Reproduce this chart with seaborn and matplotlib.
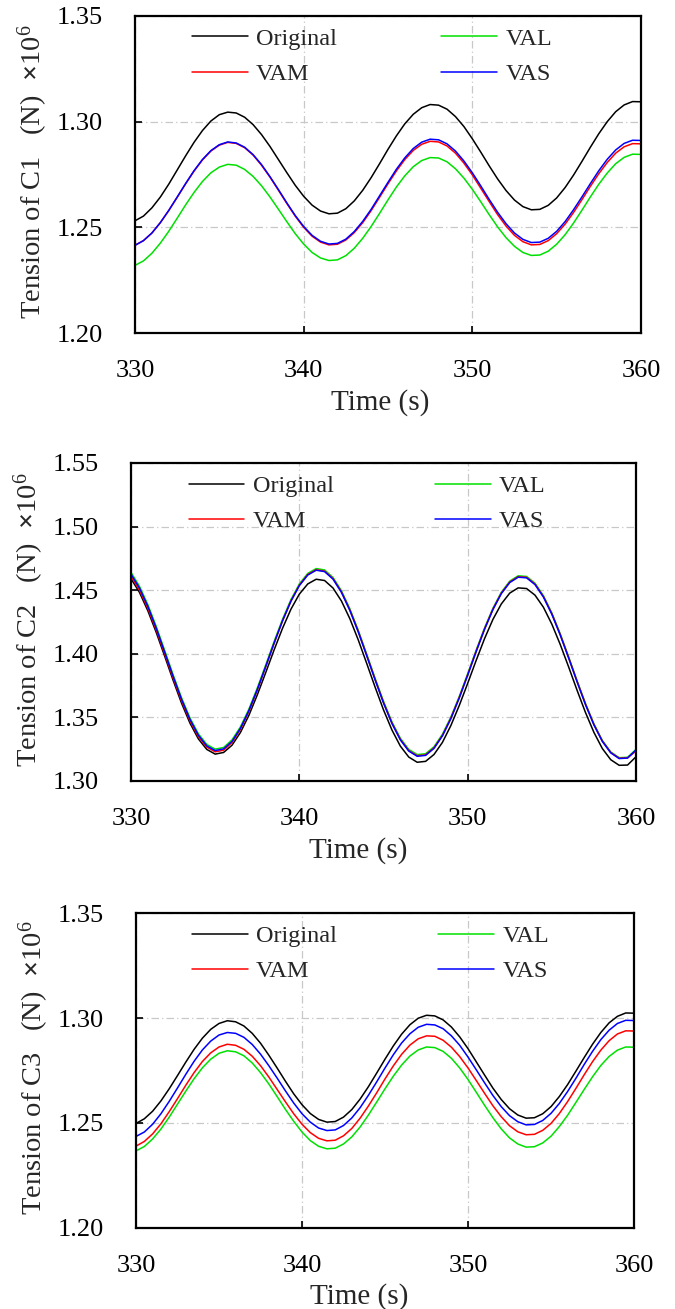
import numpy as np
import pandas as pd
import matplotlib
matplotlib.use("Agg")
import matplotlib.pyplot as plt
import seaborn as sns

# ---------------- data ----------------
time = np.arange(330.0, 360.01, 0.5)
series_names = ["Original", "VAL", "VAM", "VAS"]
colors = {"Original": "#000000", "VAL": "#00e000", "VAM": "#ff0000", "VAS": "#0000ff"}

c1_original = [1.2531,1.2553,1.2592,1.2643,1.2704,1.2771,1.2838,1.2902,1.2958,1.3003,1.3033,1.3045,
    1.3041,1.3021,1.2986,1.2939,1.2883,1.2821,1.2759,1.2699,1.2647,1.2605,1.2577,1.2564,
    1.2567,1.2588,1.2625,1.2675,1.2735,1.2801,1.2869,1.2933,1.2990,1.3035,1.3066,1.3081,
    1.3078,1.3059,1.3024,1.2977,1.2919,1.2856,1.2791,1.2729,1.2674,1.2629,1.2598,1.2583,
    1.2585,1.2604,1.2639,1.2688,1.2747,1.2812,1.2879,1.2943,1.3000,1.3047,1.3079,1.3095,1.3094]
c1_val = [1.2320,1.2341,1.2377,1.2425,1.2481,1.2543,1.2606,1.2665,1.2717,1.2758,1.2785,1.2798,
    1.2794,1.2774,1.2741,1.2697,1.2644,1.2586,1.2527,1.2470,1.2421,1.2381,1.2355,1.2343,
    1.2346,1.2366,1.2401,1.2448,1.2504,1.2566,1.2630,1.2691,1.2744,1.2787,1.2816,1.2830,
    1.2828,1.2810,1.2777,1.2733,1.2680,1.2621,1.2560,1.2502,1.2451,1.2410,1.2381,1.2367,
    1.2369,1.2387,1.2420,1.2465,1.2520,1.2581,1.2644,1.2704,1.2757,1.2801,1.2831,1.2846,1.2845]
c1_vam = [1.2415,1.2437,1.2473,1.2522,1.2579,1.2642,1.2706,1.2766,1.2819,1.2861,1.2889,1.2902,
    1.2897,1.2877,1.2842,1.2794,1.2738,1.2676,1.2613,1.2553,1.2500,1.2458,1.2430,1.2417,
    1.2420,1.2440,1.2475,1.2522,1.2579,1.2642,1.2706,1.2767,1.2821,1.2864,1.2893,1.2907,
    1.2904,1.2885,1.2851,1.2804,1.2748,1.2685,1.2622,1.2560,1.2506,1.2462,1.2432,1.2417,
    1.2419,1.2437,1.2470,1.2515,1.2570,1.2631,1.2694,1.2754,1.2807,1.2851,1.2881,1.2896,1.2895]
c1_vas = [1.2415,1.2437,1.2473,1.2522,1.2580,1.2643,1.2707,1.2768,1.2821,1.2863,1.2891,1.2904,
    1.2899,1.2879,1.2844,1.2797,1.2740,1.2679,1.2616,1.2556,1.2504,1.2462,1.2434,1.2421,
    1.2424,1.2444,1.2480,1.2528,1.2585,1.2649,1.2713,1.2775,1.2829,1.2873,1.2903,1.2917,
    1.2914,1.2895,1.2861,1.2814,1.2758,1.2696,1.2632,1.2571,1.2517,1.2473,1.2443,1.2428,
    1.2430,1.2448,1.2481,1.2527,1.2583,1.2644,1.2707,1.2768,1.2822,1.2866,1.2897,1.2912,1.2911]

c2_original = [1.4590,1.4483,1.4338,1.4167,1.3981,1.3792,1.3612,1.3455,1.3331,1.3248,1.3211,
    1.3224,1.3281,1.3381,1.3515,1.3676,1.3851,1.4030,1.4200,1.4350,1.4469,1.4549,1.4586,
    1.4576,1.4517,1.4415,1.4276,1.4109,1.3925,1.3738,1.3559,1.3401,1.3274,1.3188,1.3147,
    1.3154,1.3208,1.3303,1.3435,1.3593,1.3767,1.3946,1.4118,1.4270,1.4392,1.4477,1.4518,
    1.4513,1.4461,1.4366,1.4233,1.4073,1.3896,1.3713,1.3538,1.3382,1.3255,1.3167,1.3123,
    1.3125,1.3190]
c2_val = [1.4640,1.4531,1.4386,1.4214,1.4026,1.3835,1.3654,1.3496,1.3371,1.3287,1.3250,
    1.3263,1.3323,1.3425,1.3564,1.3730,1.3911,1.4096,1.4271,1.4426,1.4549,1.4632,1.4670,
    1.4659,1.4600,1.4496,1.4354,1.4185,1.3998,1.3808,1.3626,1.3465,1.3336,1.3248,1.3207,
    1.3214,1.3269,1.3367,1.3502,1.3664,1.3843,1.4027,1.4202,1.4358,1.4484,1.4571,1.4613,
    1.4608,1.4555,1.4457,1.4321,1.4157,1.3975,1.3788,1.3609,1.3449,1.3319,1.3228,1.3183,
    1.3186,1.3248]
c2_vam = [1.4610,1.4502,1.4358,1.4187,1.4000,1.3810,1.3631,1.3474,1.3349,1.3266,1.3229,
    1.3242,1.3302,1.3406,1.3546,1.3713,1.3896,1.4082,1.4259,1.4415,1.4539,1.4623,1.4661,
    1.4650,1.4591,1.4487,1.4345,1.4176,1.3989,1.3799,1.3617,1.3456,1.3327,1.3239,1.3198,
    1.3205,1.3260,1.3358,1.3493,1.3656,1.3835,1.4019,1.4195,1.4351,1.4477,1.4564,1.4606,
    1.4601,1.4548,1.4450,1.4315,1.4151,1.3970,1.3783,1.3604,1.3444,1.3314,1.3224,1.3179,
    1.3182,1.3235]
c2_vas = [1.4626,1.4518,1.4373,1.4201,1.4013,1.3823,1.3643,1.3485,1.3360,1.3276,1.3239,
    1.3252,1.3311,1.3414,1.3553,1.3718,1.3899,1.4084,1.4259,1.4413,1.4536,1.4619,1.4657,
    1.4646,1.4587,1.4483,1.4341,1.4172,1.3985,1.3795,1.3613,1.3452,1.3323,1.3235,1.3194,
    1.3201,1.3256,1.3354,1.3489,1.3652,1.3831,1.4015,1.4191,1.4347,1.4473,1.4560,1.4602,
    1.4597,1.4544,1.4446,1.4311,1.4147,1.3966,1.3780,1.3600,1.3441,1.3311,1.3221,1.3176,
    1.3180,1.3244]

c3_original = [1.2498,1.2520,1.2556,1.2605,1.2663,1.2726,1.2790,1.2851,1.2904,1.2946,1.2974,1.2987,
    1.2982,1.2962,1.2927,1.2880,1.2823,1.2762,1.2699,1.2639,1.2587,1.2545,1.2517,1.2504,
    1.2507,1.2528,1.2564,1.2614,1.2673,1.2738,1.2804,1.2867,1.2923,1.2968,1.2999,1.3013,
    1.3010,1.2991,1.2957,1.2910,1.2854,1.2791,1.2728,1.2666,1.2612,1.2568,1.2538,1.2523,
    1.2525,1.2544,1.2578,1.2626,1.2683,1.2747,1.2812,1.2875,1.2931,1.2977,1.3008,1.3024,1.3023]
c3_val = [1.2367,1.2388,1.2424,1.2471,1.2528,1.2590,1.2652,1.2711,1.2763,1.2804,1.2832,1.2844,
    1.2839,1.2820,1.2786,1.2740,1.2686,1.2626,1.2565,1.2508,1.2457,1.2416,1.2389,1.2377,
    1.2380,1.2400,1.2434,1.2481,1.2538,1.2600,1.2663,1.2723,1.2776,1.2819,1.2848,1.2862,
    1.2859,1.2841,1.2808,1.2762,1.2707,1.2646,1.2584,1.2525,1.2472,1.2429,1.2400,1.2385,
    1.2387,1.2405,1.2437,1.2483,1.2537,1.2598,1.2660,1.2720,1.2774,1.2817,1.2847,1.2862,1.2861]
c3_vam = [1.2390,1.2412,1.2448,1.2496,1.2554,1.2616,1.2680,1.2740,1.2793,1.2834,1.2862,1.2875,
    1.2870,1.2851,1.2818,1.2773,1.2719,1.2660,1.2601,1.2544,1.2494,1.2454,1.2427,1.2415,
    1.2418,1.2439,1.2474,1.2523,1.2581,1.2644,1.2710,1.2772,1.2827,1.2871,1.2901,1.2915,
    1.2913,1.2894,1.2861,1.2816,1.2762,1.2702,1.2641,1.2582,1.2530,1.2487,1.2458,1.2444,
    1.2446,1.2465,1.2498,1.2545,1.2602,1.2665,1.2730,1.2792,1.2847,1.2892,1.2924,1.2939,1.2938]
c3_vas = [1.2436,1.2457,1.2494,1.2544,1.2603,1.2667,1.2732,1.2794,1.2848,1.2890,1.2919,1.2931,
    1.2927,1.2908,1.2874,1.2828,1.2773,1.2714,1.2653,1.2595,1.2544,1.2504,1.2476,1.2464,
    1.2467,1.2488,1.2524,1.2573,1.2632,1.2696,1.2762,1.2825,1.2881,1.2925,1.2956,1.2970,
    1.2967,1.2949,1.2915,1.2870,1.2814,1.2753,1.2691,1.2631,1.2578,1.2535,1.2506,1.2491,
    1.2493,1.2512,1.2546,1.2593,1.2650,1.2713,1.2779,1.2841,1.2897,1.2942,1.2974,1.2989,1.2988]

x_ticks = [330, 340, 350, 360]
y_ticks_c1 = [1.20, 1.25, 1.30, 1.35]
y_ticks_c2 = [1.30, 1.35, 1.40, 1.45, 1.50, 1.55]
y_ticks_c3 = [1.20, 1.25, 1.30, 1.35]

panels = [
    dict(name="C1", data={"Original": c1_original, "VAL": c1_val, "VAM": c1_vam, "VAS": c1_vas},
         yticks=y_ticks_c1, pos=[0.2000, 0.7456, 0.7496, 0.2422], ylab_x=-0.168, xlab_x=0.484,
         xlab_y=-0.178, leg=(0.112, 0.963), colsp=4.3),
    dict(name="C2", data={"Original": c2_original, "VAL": c2_val, "VAM": c2_vam, "VAS": c2_vas},
         yticks=y_ticks_c2, pos=[0.1941, 0.4034, 0.7481, 0.2429], ylab_x=-0.168, xlab_x=0.449,
         xlab_y=-0.175, leg=(0.114, 0.962), colsp=4.15),
    dict(name="C3", data={"Original": c3_original, "VAL": c3_val, "VAM": c3_vam, "VAS": c3_vas},
         yticks=y_ticks_c3, pos=[0.2015, 0.0619, 0.7378, 0.2406], ylab_x=-0.171, xlab_x=0.448,
         xlab_y=-0.175, leg=(0.112, 0.962), colsp=4.15),
]

# ---------------- style ----------------
sns.set_theme(style="white")
plt.rcParams["font.family"] = ["Liberation Serif", "DejaVu Serif"]
plt.rcParams["mathtext.fontset"] = "custom"
plt.rcParams["mathtext.rm"] = "Liberation Serif"
plt.rcParams["mathtext.it"] = "Liberation Serif:italic"
plt.rcParams["mathtext.bf"] = "Liberation Serif:bold"

fig = plt.figure(figsize=(6.75, 13.09), dpi=100)
fig.patch.set_facecolor("white")

for p in panels:
    ax = fig.add_axes(p["pos"])
    ax.set_facecolor("white")
    rows = []
    for nm in series_names:
        for t, v in zip(time, p["data"][nm]):
            rows.append((t, v, nm))
    df = pd.DataFrame(rows, columns=["time", "tension", "series"])
    sns.lineplot(data=df, x="time", y="tension", hue="series", hue_order=series_names,
                 palette=colors, linewidth=1.1, legend=False, ax=ax, zorder=3)

    ax.set_xlim(330, 360)
    ax.set_ylim(p["yticks"][0], p["yticks"][-1])
    ax.set_xticks(x_ticks)
    ax.set_yticks(p["yticks"])
    ax.set_yticklabels([f"{v:.2f}" for v in p["yticks"]])
    ax.tick_params(axis="both", direction="in", length=5, width=1.2, labelsize=19,
                   colors="black", bottom=True, left=True)
    ax.tick_params(axis="y", pad=23)
    ax.tick_params(axis="x", pad=19.5)
    ax.grid(True, linestyle=(0, (6, 2.5, 1, 2.5)), color="#c8c8c8", linewidth=0.9, zorder=0)
    for sp in ax.spines.values():
        sp.set_color("black")
        sp.set_linewidth(1.6)
        sp.set_zorder(5)

    ax.set_xlabel("Time (s)", fontsize=21)
    ax.xaxis.set_label_coords(p["xlab_x"], p["xlab_y"])
    ax.set_ylabel(f"Tension of {p['name']}   (N)  " + r"$\mathbf{\times}\mathrm{10}^{6}$", fontsize=20.5)
    ax.yaxis.set_label_coords(p["ylab_x"], 0.508)

    order = ["Original", "VAM", "VAL", "VAS"]
    handles = [plt.Line2D([], [], color=colors[n], linewidth=1.1) for n in order]
    ax.legend(handles, order, ncol=2, loc="upper left", bbox_to_anchor=p["leg"],
              frameon=False, fontsize=17.5, handlelength=2.3, handletextpad=0.35,
              columnspacing=p["colsp"], labelspacing=0.55, borderpad=0, borderaxespad=0)

fig.savefig("out.png", dpi=100, facecolor="white")
